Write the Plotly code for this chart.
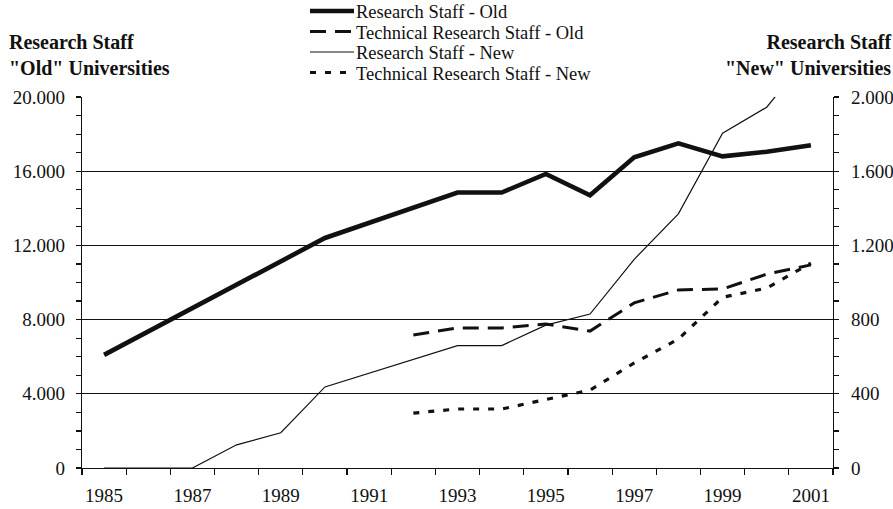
import plotly.graph_objects as go

# ---------------- data ----------------
years = list(range(1985, 2002))

# left axis ("Old" universities)
research_old = [6100, None, None, None, None, 12400, None, None, 14850, 14850,
                15850, 14700, 16750, 17500, 16800, 17050, 17400]
technical_old = [None, None, None, None, None, None, None, 7170, 7550, 7550,
                 7760, 7380, 8900, 9600, 9650, 10450, 10950]

# right axis ("New" universities)
research_new = [0, 0, 0, 125, 190, 437, None, None, 660, 660,
                770, 830, 1125, 1370, 1805, 1945, 2240]
technical_new = [None, None, None, None, None, None, None, 296, 318, 318,
                 367, 420, 566, 695, 920, 970, 1105]

series_names = ["Research Staff - Old", "Technical Research Staff - Old",
                "Research Staff - New", "Technical Research Staff - New"]

left_title = "<b>Research Staff<br>\"Old\" Universities</b>"
right_title = "<b>Research Staff<br>\"New\" Universities</b>"

FONT = "Liberation Serif"
INK = "#111111"

# ---------------- layout geometry (px) ----------------
W, H = 893, 509
ML, MR, MT, MB = 82, 60, 97, 41
PW, PH = W - ML - MR, H - MT - MB


def px_x(px):
    return (px - ML) / PW


def px_y(py):
    return (H - MB - py) / PH


styles = [
    dict(width=4.6, dash="solid"),
    dict(width=3, dash="16px,9px"),
    dict(width=1.2, dash="solid"),
    dict(width=3.2, dash="6px,9px"),
]

fig = go.Figure()
fig.add_trace(go.Scatter(x=years, y=research_old, name=series_names[0], mode="lines",
                         connectgaps=True, line=dict(color=INK, **styles[0]), yaxis="y"))
fig.add_trace(go.Scatter(x=years, y=technical_old, name=series_names[1], mode="lines",
                         connectgaps=True, line=dict(color=INK, **styles[1]), yaxis="y"))
fig.add_trace(go.Scatter(x=years, y=research_new, name=series_names[2], mode="lines",
                         connectgaps=True, line=dict(color=INK, **styles[2]), yaxis="y2"))
fig.add_trace(go.Scatter(x=years, y=technical_new, name=series_names[3], mode="lines",
                         connectgaps=True, line=dict(color=INK, **styles[3]), yaxis="y2"))

tickfont = dict(family=FONT, size=19, color=INK)

fig.update_layout(
    width=W, height=H, autosize=False,
    margin=dict(l=ML, r=MR, t=MT, b=MB, pad=0),
    paper_bgcolor="white", plot_bgcolor="white",
    separators=",.",
    showlegend=False,
    hovermode=False,
    font=dict(family=FONT, color=INK),
    xaxis=dict(
        range=[1984.5, 2001.5], tickmode="linear", tick0=1985, dtick=2,
        ticks="", showgrid=False, zeroline=False, automargin=False,
        showline=True, linecolor=INK, linewidth=1.2,
        tickfont=tickfont, ticklabelstandoff=10,
        minor=dict(tick0=1984.5, dtick=1, ticks="outside", ticklen=6,
                   tickcolor=INK, tickwidth=1.2, showgrid=False),
    ),
    xaxis2=dict(
        range=[1984.5, 2001.5], overlaying="x", anchor="y", side="bottom",
        tickmode="linear", tick0=1985, dtick=2, ticks="", automargin=False,
        showticklabels=False, showgrid=False, zeroline=False, showline=False,
        minor=dict(tick0=1984.5, dtick=1, ticks="inside", ticklen=4,
                   tickcolor=INK, tickwidth=1.2, showgrid=False),
    ),
    yaxis=dict(
        range=[0, 20000], tickmode="linear", tick0=0, dtick=4000, tickformat=",d",
        ticks="outside", ticklen=5, tickcolor=INK, tickwidth=1.2, automargin=False,
        showgrid=True, gridcolor=INK, gridwidth=1, zeroline=False,
        showline=True, linecolor=INK, linewidth=1.2,
        tickfont=tickfont, ticklabelstandoff=7,
        minor=dict(dtick=1000, ticks="outside", ticklen=5, tickcolor=INK,
                   tickwidth=1.2, showgrid=False),
    ),
    yaxis2=dict(
        range=[0, 2000], tickmode="linear", tick0=0, dtick=400, tickformat=",d",
        overlaying="y", side="right", anchor="x", automargin=False,
        ticks="outside", ticklen=5, tickcolor=INK, tickwidth=1.2,
        showgrid=False, zeroline=False,
        showline=True, linecolor=INK, linewidth=1.2,
        tickfont=tickfont, ticklabelstandoff=8,
        minor=dict(dtick=100, ticks="outside", ticklen=5, tickcolor=INK,
                   tickwidth=1.2, showgrid=False),
    ),
)

# axis titles
fig.add_annotation(text=left_title, xref="paper", yref="paper",
                   x=px_x(7), y=px_y(29), xanchor="left", yanchor="top",
                   align="left", showarrow=False,
                   font=dict(family=FONT, size=20, color=INK))
fig.add_annotation(text=right_title, xref="paper", yref="paper",
                   x=px_x(893), y=px_y(29), xanchor="right", yanchor="top",
                   align="right", showarrow=False,
                   font=dict(family=FONT, size=20, color=INK))

# custom compact legend (sample lines + labels)
legend_rows = [12, 32.5, 53, 73.5]
for name, st, ry in zip(series_names, styles, legend_rows):
    fig.add_shape(type="line", xref="paper", yref="paper",
                  x0=px_x(310), x1=px_x(354), y0=px_y(ry - 1), y1=px_y(ry - 1),
                  line=dict(color=INK, width=st["width"], dash=st["dash"]))
    fig.add_annotation(text=name, xref="paper", yref="paper",
                       x=px_x(354), y=px_y(ry), xanchor="left", yanchor="middle",
                       showarrow=False,
                       font=dict(family=FONT, size=18.5, color=INK))

fig.write_html(
    "out.html",
    config={"displayModeBar": False, "responsive": False, "staticPlot": True},
    post_script=(
        "document.documentElement.style.overflow='hidden';"
        "document.body.style.margin='0';document.body.style.overflow='hidden';"
    ),
)
